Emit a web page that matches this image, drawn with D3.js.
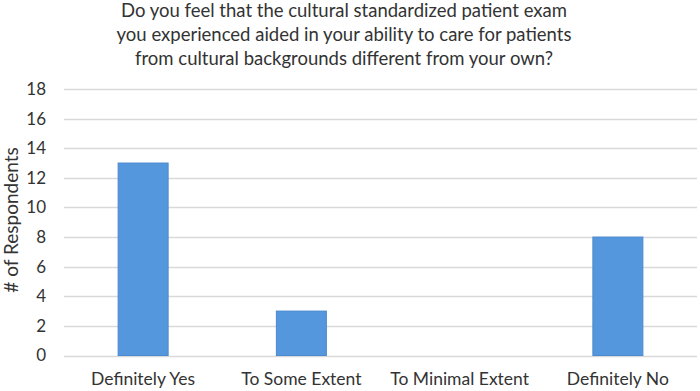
<!DOCTYPE html>
<html><head><meta charset="utf-8">
<script src="https://cdn.jsdelivr.net/npm/d3@7"></script>
<style>body{margin:0;background:#fff}svg{display:block}text{font-family:Lato,"Open Sans",sans-serif;fill:#333}</style>
</head><body>
<script>
const categories = ["Definitely Yes","To Some Extent","To Minimal Extent","Definitely No"];
const values = [13,3,0,8];
const yTicks = [0,2,4,6,8,10,12,14,16,18];
const titleLines = ["Do you feel that the cultural standardized patient exam","you experienced aided in your ability to care for patients","from cultural backgrounds different from your own?"];
const yTitle = "# of Respondents";

const W=700,H=391;
const svg=d3.select("body").append("svg").attr("width",W).attr("height",H);
const x=d3.scaleBand().domain(categories).range([64,697]).paddingInner(0.684).paddingOuter(0.342);
const y=d3.scaleLinear().domain([0,18]).range([355.5,89]);

svg.append("g").selectAll("line").data(yTicks).join("line")
  .attr("x1",64).attr("x2",697).attr("y1",d=>Math.round(y(d))+0.5).attr("y2",d=>Math.round(y(d))+0.5)
  .attr("stroke","#d9d9d9").attr("stroke-width",1.3);

svg.append("g").selectAll("text").data(yTicks).join("text")
  .attr("x",46).attr("y",d=>y(d)).attr("dy","0.35em").attr("text-anchor","end")
  .style("font-size","17px").text(d=>d);

svg.append("g").selectAll("rect").data(values).join("rect")
  .attr("x",(d,i)=>x(categories[i])).attr("width",x.bandwidth())
  .attr("y",d=>y(d)).attr("height",d=>y(0)-y(d))
  .attr("fill","#5597dc").attr("stroke","#4a8ad0").attr("stroke-width",d=>d>0?1:0);

svg.append("g").selectAll("text").data(categories).join("text")
  .attr("x",d=>x(d)+x.bandwidth()/2).attr("y",385).attr("text-anchor","middle")
  .style("font-size","17.5px").text(d=>d);

svg.append("g").selectAll("text").data(titleLines).join("text")
  .attr("x",344).attr("y",(d,i)=>17+i*24).attr("text-anchor","middle")
  .style("font-size","18.5px").text(d=>d);

svg.append("text").attr("transform","translate(18,220) rotate(-90)").attr("text-anchor","middle")
  .style("font-size","19px").text(yTitle);
</script>
</body></html>
